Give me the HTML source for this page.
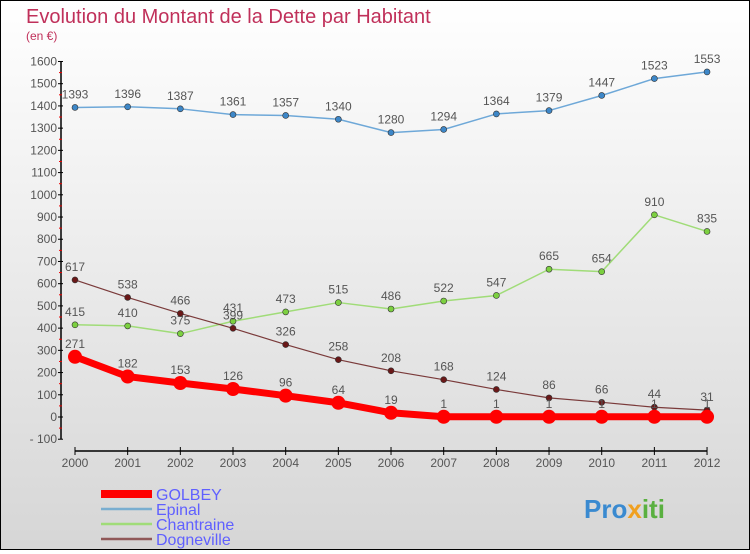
<!DOCTYPE html>
<html><head><meta charset="utf-8"><style>
body{margin:0}
#c{width:748px;height:548px;border:1px solid #000;background:linear-gradient(#fff,#d6d6d6);position:relative;font-family:"Liberation Sans",sans-serif}
</style></head><body>
<div id="c">
<svg id="s" width="748" height="548"></svg>
</div>
<script>
const years=[2000,2001,2002,2003,2004,2005,2006,2007,2008,2009,2010,2011,2012];
const golbey=[271,182,153,126,96,64,19,1,1,1,1,1,1];
const epinal=[1393,1396,1387,1361,1357,1340,1280,1294,1364,1379,1447,1523,1553];
const chantraine=[415,410,375,431,473,515,486,522,547,665,654,910,835];
const dogneville=[617,538,466,399,326,258,208,168,124,86,66,44,31];
const yTicks=[-100,0,100,200,300,400,500,600,700,800,900,1000,1100,1200,1300,1400,1500,1600];
const NS='http://www.w3.org/2000/svg';
const s=document.getElementById('s');
function X(i){return 74+i*52.67;}
function Y(v){return 416-v*0.2222;}
function el(t,a,p){const e=document.createElementNS(NS,t);for(const k in a)e.setAttribute(k,a[k]);(p||s).appendChild(e);return e;}
let t=el('text',{x:25,y:22,'font-size':20,fill:'#c0305a'});t.textContent='Evolution du Montant de la Dette par Habitant';

t=el('text',{x:25,y:39,'font-size':12,fill:'#c0305a'});t.textContent='(en €)';

let ya=el('line',{x1:60,y1:Y(1600),x2:60,y2:Y(-100),stroke:'#000','stroke-width':1.5});

yTicks.forEach((v,i)=>{
 el('line',{x1:57,y1:Y(v),x2:62,y2:Y(v),stroke:'#000'});
 if(i<yTicks.length-1)el('line',{x1:58,y1:Y(v+50),x2:61,y2:Y(v+50),stroke:'#e00'});
 const l=el('text',{x:56,y:Y(v)+4,'font-size':12,'text-anchor':'end',fill:'#555'});l.textContent=v<0?'- '+(-v):v;
 
});
let xa=el('line',{x1:X(0),y1:450,x2:X(12),y2:450,stroke:'#000','stroke-width':1.5});

years.forEach((y,i)=>{
 el('line',{x1:X(i),y1:446,x2:X(i),y2:454,stroke:'#000'});
 const l=el('text',{x:X(i),y:466,'font-size':12,'text-anchor':'middle',fill:'#555'});l.textContent=y;
 
});
function series(data,color,w,r,name,fillc){
 const g=el('g',{});
 el('polyline',{points:data.map((v,i)=>X(i)+','+Y(v)).join(' '),fill:'none',stroke:color,'stroke-width':w,'stroke-linejoin':'round'},g);
 data.forEach((v,i)=>{
  const c=el('circle',{cx:X(i),cy:Y(v),r:r,fill:fillc,stroke:'#333','stroke-width':r>5?0:0.6},g);
  
  const l=el('text',{x:X(i),y:Y(v)-9,'font-size':12,'text-anchor':'middle',fill:'#555'},g);l.textContent=v;
 });
}
series(epinal,'#6ea8d8',1.5,3,'epinal','#3d87c8');
series(chantraine,'#a0dc78',1.5,3,'chantraine','#7cd040');
series(dogneville,'#7a3a3a',1.2,3,'dogneville','#6a1818');
series(golbey,'#f00',7,7,'golbey','#f00');
const leg=[['GOLBEY','#f00',8],['Epinal','#7aaed0',2.5],['Chantraine','#a0dc78',2.5],['Dogneville','#905858',2.5]];
leg.forEach((d,i)=>{
 const y=493+i*15;
 const g=el('g',{});
 el('line',{x1:100,y1:y,x2:151,y2:y,stroke:d[1],'stroke-width':d[2]},g);
 const l=el('text',{x:155,y:y+6,'font-size':16,fill:'#6060ff'},g);l.textContent=d[0];
});
const lg=el('text',{x:583,y:517,'font-size':26,'font-weight':'bold',fill:'#3a8ad0'});

[['Pro','#3a8ad0'],['x','#f0a020'],['iti','#5ab040']].forEach(p=>{const ts=el('tspan',{fill:p[1]},lg);ts.textContent=p[0];});
</script>
</body></html>
